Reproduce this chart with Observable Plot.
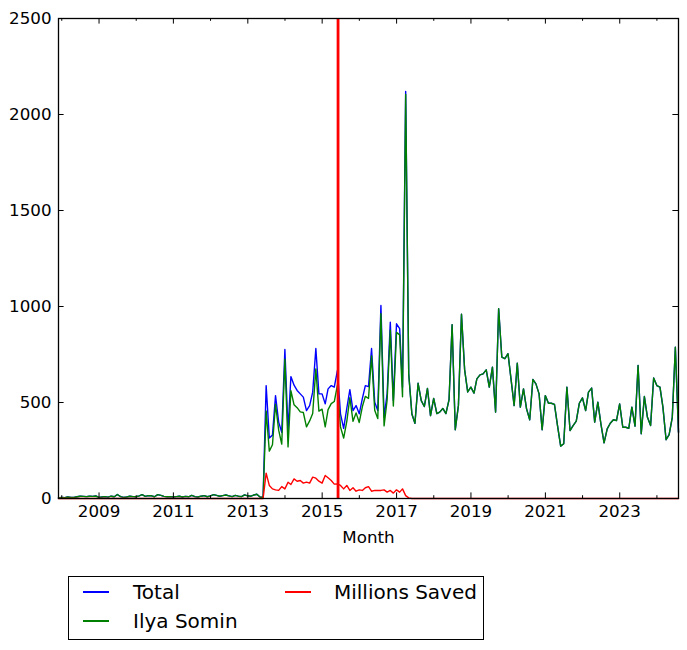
<!DOCTYPE html>
<html>
<head>
<meta charset="utf-8">
<script src="https://cdn.jsdelivr.net/npm/d3@7"></script>
<script src="https://cdn.jsdelivr.net/npm/@observablehq/plot@0.6"></script>
<style>
  body { margin: 0; background: white; }
  #wrap { position: relative; width: 687px; height: 650px; font-family: "DejaVu Sans", sans-serif; }
  #legend { position: absolute; left: 68px; top: 576px; width: 416px; height: 64px; border: 1.3px solid black; box-sizing: border-box; background: white; font-size: 20px; }
  #legend .h { position: absolute; height: 1.4px; width: 26px; }
  #legend .t { position: absolute; line-height: 1; transform: translateY(-50%); white-space: nowrap; }
</style>
</head>
<body>
<div id="wrap"></div>
<script>
// Monthly series, Nov 2007 .. Jul 2024 (month-end)
const startYear = 2007, startMonth = 10; // November (0-based)
const seriesNames = ["Total", "Ilya Somin", "Millions Saved"];
const seriesColors = ["#0000ff", "#008000", "#ff0000"];

const total = [
  3,5,4,8,6,5,9,12,11,10, 12,11,13,6,8,10,7,12,9,21,
  10,6,8,12,10,9,14,20,11,15, 14,9,20,16,11,9,10,8,10,12,
  8,11,9,16,10,8,12,15,9,14, 20,16,12,15,18,14,10,16,12,10,
  19,14,12,18,22,8,5,
  588,315,330,536,398,345,776,354,635,590, 563,545,528,458,484,554,781,545,545,493,
  571,588,580,667,441,365,470,567,458,484, 441,521,588,583,781,502,458,1005,423,547,
  918,510,910,885,580,2120,650,
  440,392,600,510,479,573,432,521,442,450,
  469,442,515,905,358,485,960,670,555,580,
  549,623,644,649,670,580,684,450,988,736,
  728,754,615,484,705,476,571,467,410,620,
  597,545,358,536,496,496,490,380,273,285,
  580,354,380,403,496,524,458,554,575,398,
  502,389,290,363,392,410,406,493,371,371,
  366,476,377,693,337,531,423,380,628,588,
  580,476,306,333,423,788,345
];

const somin = [
  3,5,4,8,6,5,9,12,11,10, 12,11,13,6,8,10,7,12,9,21,
  10,6,8,12,10,9,14,20,11,15, 14,9,20,16,11,9,10,8,10,12,
  8,11,9,16,10,8,12,15,9,14, 20,16,12,15,18,14,10,16,12,10,
  19,14,12,18,22,8,5,
  456,247,280,491,356,283,726,269,562,488, 473,451,448,373,404,443,675,455,465,373,
  463,494,505,591,373,315,402,525,402,446, 396,479,532,521,743,460,416,963,378,514,
  876,482,865,852,530,2105,647,
  440,392,600,510,479,573,432,521,442,450,
  469,442,515,905,358,485,960,670,555,580,
  549,623,644,649,670,580,684,450,988,736,
  728,754,615,484,705,476,571,467,410,620,
  597,545,358,536,496,496,490,380,273,285,
  580,354,380,403,496,524,458,554,575,398,
  502,389,290,363,392,410,406,493,371,371,
  366,476,377,693,337,531,423,380,628,588,
  580,476,306,333,423,788,345
];

const millions = [
  0,0,0,0,0,0,0,0,0,0, 0,0,0,0,0,0,0,0,0,0,
  0,0,0,0,0,0,0,0,0,0, 0,0,0,0,0,0,0,0,0,0,
  0,0,0,0,0,0,0,0,0,0, 0,0,0,0,0,0,0,0,0,0,
  0,0,0,0,0,0,0,
  132,68,50,45,42,62,50,85,73,102, 90,94,80,85,80,111,106,90,80,120,
  108,94,75,76,68,50,68,42,56,38, 45,42,56,62,38,42,42,42,45,33,
  42,28,45,33,50,15,3,
  0,0,0,0,0,0,0,0,0,0, 0,0,0,0,0,0,0,0,0,0,
  0,0,0,0,0,0,0,0,0,0, 0,0,0,0,0,0,0,0,0,0,
  0,0,0,0,0,0,0,0,0,0, 0,0,0,0,0,0,0,0,0,0,
  0,0,0,0,0,0,0,0,0,0, 0,0,0,0,0,0,0,0,0,0,
  0,0,0,0,0,0,0
];

const yTicks = [0, 500, 1000, 1500, 2000, 2500];
const majorYears = [2009, 2011, 2013, 2015, 2017, 2019, 2021, 2023];
const minorYears = [2008, 2010, 2012, 2014, 2016, 2018, 2020, 2022, 2024];
const eventDate = new Date(Date.UTC(2015, 5, 6));

// month-end dates
const dates = total.map((_, i) => new Date(Date.UTC(startYear, startMonth + i + 1, 0)));
const rows = total.map((v, i) => ({date: dates[i], total: v, somin: somin[i], millions: millions[i]}));
const majorDates = majorYears.map(y => new Date(Date.UTC(y, 0, 1)));
const minorDates = minorYears.map(y => new Date(Date.UTC(y, 0, 1)));

const W = 687, H = 560, mL = 58, mR = 9, mT = 18, mB = 62;
const pw = W - mL - mR, ph = H - mT - mB;
const majLen = 5.6, minLen = 2.8;

const chart = Plot.plot({
  width: W, height: H,
  marginLeft: mL, marginRight: mR, marginTop: mT, marginBottom: mB,
  style: {fontFamily: "DejaVu Sans", fontSize: "16.7px", background: "white", color: "black", overflow: "visible"},
  x: {type: "utc", domain: [dates[0], dates[dates.length - 1]]},
  y: {domain: [0, 2500]},
  marks: [
    Plot.lineY(rows, {x: "date", y: "total", stroke: seriesColors[0], strokeWidth: 1.4}),
    Plot.lineY(rows, {x: "date", y: "somin", stroke: seriesColors[1], strokeWidth: 1.4}),
    Plot.lineY(rows, {x: "date", y: "millions", stroke: seriesColors[2], strokeWidth: 1.4}),
    Plot.ruleX([eventDate], {stroke: "#ff0000", strokeWidth: 2.8}),
    // inward ticks
    Plot.tickX(majorDates, {x: d => d, insetTop: ph - majLen, stroke: "black", strokeWidth: 1}),
    Plot.tickX(majorDates, {x: d => d, insetBottom: ph - majLen, stroke: "black", strokeWidth: 1}),
    Plot.tickX(minorDates, {x: d => d, insetTop: ph - minLen, stroke: "black", strokeWidth: 1}),
    Plot.tickX(minorDates, {x: d => d, insetBottom: ph - minLen, stroke: "black", strokeWidth: 1}),
    Plot.tickY(yTicks, {y: d => d, insetRight: pw - majLen, stroke: "black", strokeWidth: 1}),
    Plot.tickY(yTicks, {y: d => d, insetLeft: pw - majLen, stroke: "black", strokeWidth: 1}),
    Plot.frame({stroke: "black", strokeWidth: 1.3}),
    Plot.axisY(yTicks, {tickSize: 0, tickPadding: 7, tickFormat: d => String(d), label: null}),
    Plot.axisX(majorDates, {tickSize: 0, tickPadding: 7, tickFormat: d3.utcFormat("%Y"),
      label: "Month", labelAnchor: "center", labelArrow: "none", labelOffset: 44})
  ]
});

const wrap = document.getElementById("wrap");
wrap.appendChild(chart);

// legend below the chart
const legend = document.createElement("div");
legend.id = "legend";
const entries = [
  {name: seriesNames[0], color: seriesColors[0], hx: 14, tx: 64, y: 15},
  {name: seriesNames[1], color: seriesColors[1], hx: 14, tx: 64, y: 44},
  {name: seriesNames[2], color: seriesColors[2], hx: 216, tx: 265, y: 15}
];
for (const e of entries) {
  const h = document.createElement("div");
  h.className = "h";
  h.style.left = e.hx + "px";
  h.style.top = (e.y - 0.7) + "px";
  h.style.background = e.color;
  legend.appendChild(h);
  const t = document.createElement("div");
  t.className = "t";
  t.style.left = e.tx + "px";
  t.style.top = e.y + "px";
  t.textContent = e.name;
  legend.appendChild(t);
}
wrap.appendChild(legend);
</script>
</body>
</html>
